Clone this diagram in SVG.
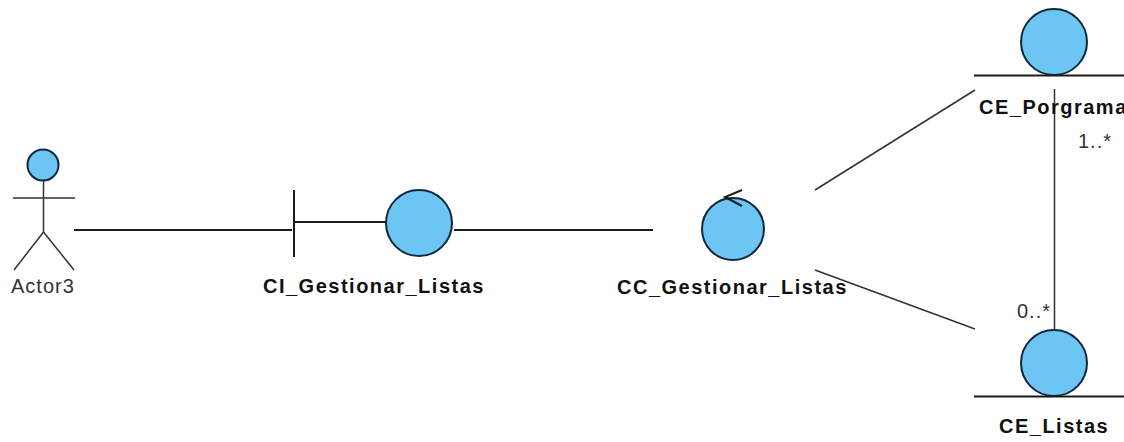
<svg xmlns="http://www.w3.org/2000/svg" width="1124" height="442" viewBox="0 0 1124 442">
<style>
.fill{fill:#6cc5f2;stroke:#10283c;stroke-width:2}
.ln{fill:none;stroke:#1a1a1a;stroke-width:2}
.thin{fill:none;stroke:#333;stroke-width:1.5}
.b{font-family:"Liberation Sans",Arial,sans-serif;font-size:20px;font-weight:bold;fill:#111;letter-spacing:1.5px}
.r{font-family:"Liberation Sans",Arial,sans-serif;font-size:20px;fill:#333;letter-spacing:1px}
</style>
<rect width="1124" height="442" fill="#fff"/>
<g id="connectors">
<path class="ln" d="M74 230H292"/>
<path class="ln" d="M454 230H653"/>
<path class="thin" d="M815 190L975 90"/>
<path class="thin" d="M815 270L975 329"/>
<path class="thin" d="M1054.500 89V329"/>
</g>
<g id="actor3">
<circle class="fill" cx="43" cy="165" r="15.500"/>
<path class="thin" d="M43.500 181V232M13 198H75M43.500 232L14 270M43.500 232L74 270"/>
<text class="r" x="11" y="293">Actor3</text>
</g>
<g id="ci-gestionar-listas">
<path class="ln" d="M294 190V257M294 222H386"/>
<circle class="fill" cx="419" cy="223" r="33"/>
<text class="b" x="263" y="293">CI_Gestionar_Listas</text>
</g>
<g id="cc-gestionar-listas">
<circle class="fill" cx="733" cy="229" r="31"/>
<path class="ln" d="M742 190L725 197L742 206"/>
<text class="b" x="617" y="294">CC_Gestionar_Listas</text>
</g>
<g id="ce-porgrama">
<circle class="fill" cx="1054" cy="42" r="33"/>
<path class="ln" d="M974 75.500H1124"/>
<text class="b" x="979" y="114">CE_Porgrama</text>
<text class="r" x="1078" y="148">1..*</text>
</g>
<g id="ce-listas">
<circle class="fill" cx="1054" cy="363" r="33"/>
<path class="ln" d="M974 396.500H1124"/>
<text class="b" x="999" y="433">CE_Listas</text>
<text class="r" x="1017" y="318">0..*</text>
</g>
</svg>
